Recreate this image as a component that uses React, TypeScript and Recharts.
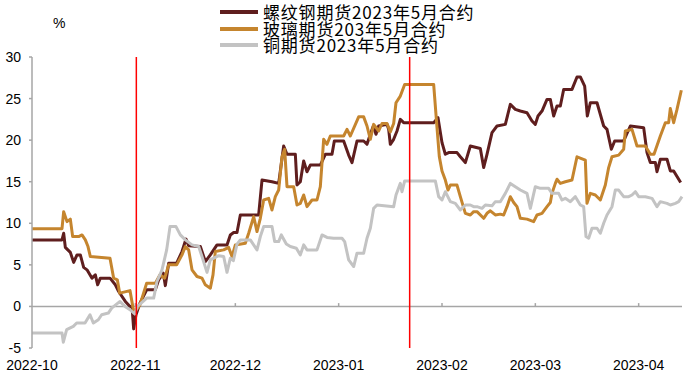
import { LineChart, Line, XAxis, YAxis, ReferenceLine } from "recharts"

// day offsets counted from 2022-10-01
const monthLabels = ["2022-10", "2022-11", "2022-12", "2023-01", "2023-02", "2023-03", "2023-04"]
const monthDays = [0, 31, 61, 92, 123, 151, 182]
const yTicks = [-5, 0, 5, 10, 15, 20, 25, 30]
const eventDays = [31.3, 113.3]

const rebarDays = [0, 9, 9.5, 10, 11.5, 12.5, 13.5, 14.5, 15.5, 16.5, 18, 19, 19.7, 20.5, 23.4, 25, 26, 28, 29.4, 30, 30.5, 31.2, 32.4, 34.4, 37, 38, 39.4, 40, 41, 43.4, 45, 46.2, 47, 50.5, 52, 53.5, 55.5, 58.5, 59.5, 60.5, 61.5, 62.5, 68, 69, 72, 74, 75.5, 76.5, 79, 79.5, 80.5, 81.5, 82.5, 83.5, 86.5, 88, 90, 90.7, 93.5, 95, 96, 97.5, 99.5, 100.5, 101.5, 102.4, 103.2, 104, 106.5, 107, 107.5, 108.5, 109.5, 110.5, 111.5, 120.5, 121.8, 123, 124, 125, 127.5, 128.5, 130, 131.5, 134.5, 135.5, 136.5, 138, 139.5, 142, 143.5, 145, 146.5, 148.5, 150, 151, 151.8, 153, 154.5, 155.5, 156.5, 157.5, 158.5, 159.5, 162, 163.5, 164.5, 165.8, 166.6, 167.5, 169.5, 171.5, 172.5, 173.8, 174.8, 177.5, 179.5, 183.5, 184.5, 185.5, 187, 187.5, 188.5, 190.5, 191.5, 192.5, 194.6]
const rebarValues = [8.0, 8.0, 8.8, 7.1, 6.5, 5.3, 6.2, 6.2, 4.7, 4.4, 3.4, 3.8, 2.6, 3.4, 3.4, 2.6, 1.8, 0.6, 0, 0, -2.7, -1.0, 0.4, 2.0, 2.0, 3.2, 4.0, 2.5, 5.2, 5.2, 6.6, 8.1, 7.3, 7.2, 5.4, 6.2, 7.4, 7.4, 8.6, 8.9, 8.9, 11.0, 11.0, 15.2, 15.0, 14.8, 19.3, 18.3, 18.3, 14.6, 15.0, 17.5, 16.2, 17.0, 17.0, 18.3, 18.3, 19.9, 19.9, 18.2, 17.3, 19.9, 19.9, 19.5, 20.7, 21.7, 20.7, 21.7, 21.9, 21.3, 19.5, 20.1, 21.1, 22.5, 22.1, 22.1, 22.7, 19.7, 18.3, 18.5, 18.5, 18.0, 17.3, 19.3, 19.0, 16.7, 18.3, 20.9, 21.7, 21.9, 24.3, 23.7, 23.5, 23.3, 22.3, 21.9, 22.9, 23.5, 24.9, 24.9, 22.9, 24.1, 24.1, 26.1, 26.1, 27.6, 27.6, 26.5, 22.9, 24.5, 24.5, 21.7, 21.3, 18.9, 19.9, 19.9, 21.7, 21.5, 18.5, 17.3, 17.3, 16.2, 17.7, 17.7, 16.3, 16.3, 14.9]

const glassDays = [0, 9, 9.5, 10.5, 11.5, 12.2, 14, 15, 16, 16.8, 17.5, 23.4, 24.5, 25.6, 26.3, 29.4, 30.5, 31.5, 32.4, 34.4, 37, 38.4, 39.8, 41, 43.4, 45, 46, 47, 48, 49.5, 51, 52, 53.5, 54.3, 55, 57.5, 59, 60, 61, 64, 65, 66.5, 67.5, 68.5, 69.5, 71, 72, 73, 74, 75, 75.8, 76.5, 78.5, 79.5, 80.5, 81.5, 82.5, 84, 85.5, 86.5, 87.5, 88.5, 89.5, 93.5, 94.5, 95.5, 98, 99.5, 100.5, 101.5, 102.5, 104, 105, 106.5, 107.5, 108.5, 109.2, 110.5, 111.8, 120.5, 121.5, 122.2, 123, 124, 124.8, 125.5, 127.5, 128.5, 130, 131.5, 132.5, 133.5, 135.5, 136.5, 137.5, 139, 140.5, 141.5, 142.5, 143.5, 144.5, 145.5, 146.5, 148.5, 150.5, 151.5, 153, 154.5, 155.5, 156, 157, 157.5, 158.5, 160, 162, 163.5, 166, 166.5, 167.5, 169, 170.5, 172, 173, 174, 176, 177.5, 178, 180, 181.5, 184, 185.5, 186.6, 188.5, 190, 191, 191.5, 192.5, 193.5, 194.8]
const glassValues = [9.35, 9.35, 11.4, 10.2, 10.5, 8.4, 8.4, 8.6, 8.0, 7.2, 6.0, 5.8, 3.4, 3.2, 1.6, 1.9, -0.6, -0.3, 0.2, 2.8, 2.8, 3.8, 3.4, 5.0, 5.0, 6.2, 7.2, 6.8, 4.4, 3.6, 3.4, 2.6, 2.2, 3.8, 6.6, 6.8, 7.1, 6.0, 7.4, 7.6, 8.8, 10.8, 9.0, 10.6, 12.8, 13.0, 11.6, 13.2, 14.0, 18.0, 18.9, 14.4, 14.4, 12.2, 12.4, 13.4, 12.0, 12.8, 12.8, 14.4, 20.1, 19.5, 20.5, 20.5, 21.3, 20.5, 22.8, 22.8, 21.7, 20.1, 21.9, 21.1, 22.0, 22.0, 21.0, 22.0, 24.5, 25.3, 26.7, 26.7, 21.5, 18.0, 16.3, 15.2, 14.0, 14.6, 14.6, 13.2, 11.2, 11.0, 11.4, 11.4, 10.6, 11.2, 11.5, 11.0, 11.1, 11.0, 12.0, 13.2, 12.5, 12.0, 10.6, 10.5, 10.2, 11.0, 11.2, 12.0, 12.5, 13.6, 14.8, 15.3, 14.8, 15.0, 15.2, 18.0, 17.6, 12.4, 13.6, 13.4, 12.8, 14.6, 16.7, 18.0, 18.2, 18.9, 21.1, 21.3, 19.3, 19.3, 18.3, 18.3, 20.5, 22.1, 22.1, 23.8, 22.1, 23.7, 26.0]

const copperDays = [0, 9, 9.4, 10.4, 12.4, 13.4, 15.9, 17.4, 18.4, 19.9, 20.9, 22.9, 23.9, 26.4, 27.9, 29.4, 30.8, 31.6, 32.5, 34.4, 36.5, 37.5, 39, 40.4, 41.4, 43.2, 44.5, 46, 48, 50, 51, 52.5, 53.5, 56, 57.5, 58.5, 59.5, 60.4, 61.5, 62.5, 65.5, 67.5, 68.5, 69.5, 72, 72.8, 74, 74.8, 76.3, 77.5, 79.3, 80.5, 81.5, 82.5, 85.5, 87, 88.5, 90.5, 93, 93.8, 95, 96.5, 97.5, 99.5, 100.5, 101.5, 102.5, 103.5, 108.5, 109.2, 110.5, 111, 111.8, 121, 122, 123, 124, 125.5, 127, 128.5, 130, 131.5, 132.5, 133.5, 135, 136, 138, 139, 140.5, 142, 143.5, 145, 146.5, 148.5, 149.5, 151, 152.5, 155, 156, 158, 159, 160, 161.5, 163, 164.5, 165.5, 166.2, 167, 168, 169.5, 170.5, 171.5, 172.5, 174, 175, 176, 177.5, 179, 180, 181, 182, 184, 186, 187.5, 188.5, 190.5, 191.5, 193, 194, 195]
const copperValues = [-3.2, -3.2, -4.3, -2.8, -2.4, -2.0, -2.0, -1.0, -2.0, -1.6, -1.0, -0.8, -0.2, 0.6, 0.0, -0.4, -0.9, 0.0, 0.3, 1.0, 1.0, 3.0, 4.4, 6.8, 9.6, 9.6, 8.6, 8.0, 7.4, 7.2, 6.0, 4.1, 5.6, 6.1, 6.0, 4.1, 5.8, 5.5, 7.5, 8.0, 8.0, 6.8, 8.4, 9.6, 9.6, 7.8, 7.8, 8.6, 7.5, 7.2, 7.0, 6.2, 7.4, 6.8, 6.8, 8.6, 8.3, 8.2, 8.2, 7.8, 5.6, 4.8, 6.4, 6.4, 8.2, 9.4, 11.8, 12.2, 12.0, 13.4, 14.8, 13.8, 15.1, 15.1, 13.2, 12.8, 13.8, 12.6, 12.4, 11.6, 12.2, 12.2, 12.0, 12.0, 11.8, 12.2, 12.1, 12.6, 12.6, 13.6, 14.8, 14.4, 14.0, 13.6, 11.8, 14.4, 14.2, 14.2, 13.6, 13.6, 12.8, 13.0, 12.6, 13.2, 12.2, 12.0, 8.4, 8.2, 9.4, 9.4, 8.8, 10.0, 11.0, 12.0, 14.0, 14.0, 13.2, 13.2, 13.4, 13.8, 13.2, 13.2, 13.0, 12.0, 12.6, 12.4, 12.2, 12.4, 12.6, 13.2]

const series = [
  { name: "螺纹钢期货2023年5月合约", color: "#5f1e1e", days: rebarDays, values: rebarValues },
  { name: "玻璃期货203年5月合约", color: "#c5852e", days: glassDays, values: glassValues },
  { name: "铜期货2023年5月合约", color: "#c3c3c3", days: copperDays, values: copperValues },
]

const axisGray = "#a6a6a6"
const font = "'Liberation Sans', Arial, sans-serif"

export default function App() {
  return (
    <div style={{ position: "absolute", left: 0, top: 0, width: 700, height: 384, background: "#fff" }}>
      <LineChart width={700} height={384} margin={{ top: 57, right: 18, bottom: 0, left: 0 }}>
        <XAxis
          type="number"
          dataKey="d"
          domain={[0, 195]}
          ticks={monthDays}
          tickFormatter={(d) => monthLabels[monthDays.indexOf(d)]}
          axisLine={false}
          tickLine={false}
          tickMargin={6}
          height={36}
          allowDuplicatedCategory={false}
          tick={{ fill: "#000", fontSize: 14, fontFamily: font }}
        />
        <YAxis
          type="number"
          domain={[-5, 30]}
          ticks={yTicks}
          width={32}
          tickSize={3}
          tickMargin={8}
          axisLine={{ stroke: axisGray, strokeWidth: 1.5 }}
          tickLine={{ stroke: axisGray, strokeWidth: 1.5 }}
          tick={{ fill: "#000", fontSize: 14, fontFamily: font }}
        />
        <ReferenceLine y={0} stroke={axisGray} strokeWidth={1.5} />
        {monthDays.slice(1).map((d) => (
          <ReferenceLine
            key={d}
            segment={[{ x: d, y: 0 }, { x: d, y: 0.4 }]}
            stroke={axisGray}
            strokeWidth={1.5}
          />
        ))}
        {series.map((s) => (
          <Line
            key={s.name}
            data={s.days.map((d, i) => ({ d, v: s.values[i] }))}
            dataKey="v"
            type="linear"
            stroke={s.color}
            strokeWidth={3}
            dot={false}
            strokeLinejoin="round"
            isAnimationActive={false}
          />
        ))}
        {eventDays.map((d) => (
          <ReferenceLine key={d} x={d} stroke="#ff0000" strokeWidth={1.5} />
        ))}
      </LineChart>

      <div style={{ position: "absolute", left: 53, top: 15, fontSize: 14, fontFamily: font, color: "#000" }}>%</div>

      {/* Legend */}
      <div style={{ position: "absolute", left: 220, top: 4 }}>
        {series.map((s) => (
          <div key={s.name} style={{ display: "flex", alignItems: "center", height: 16.5 }}>
            <div style={{ width: 38, height: 4, background: s.color }} />
            <span
              style={{
                marginLeft: 5,
                fontSize: 17,
                lineHeight: "16.5px",
                letterSpacing: 0.8,
                fontFamily: "'Noto Sans CJK SC', sans-serif",
                color: "#000",
                whiteSpace: "nowrap",
              }}
            >
              {s.name}
            </span>
          </div>
        ))}
      </div>
    </div>
  )
}
